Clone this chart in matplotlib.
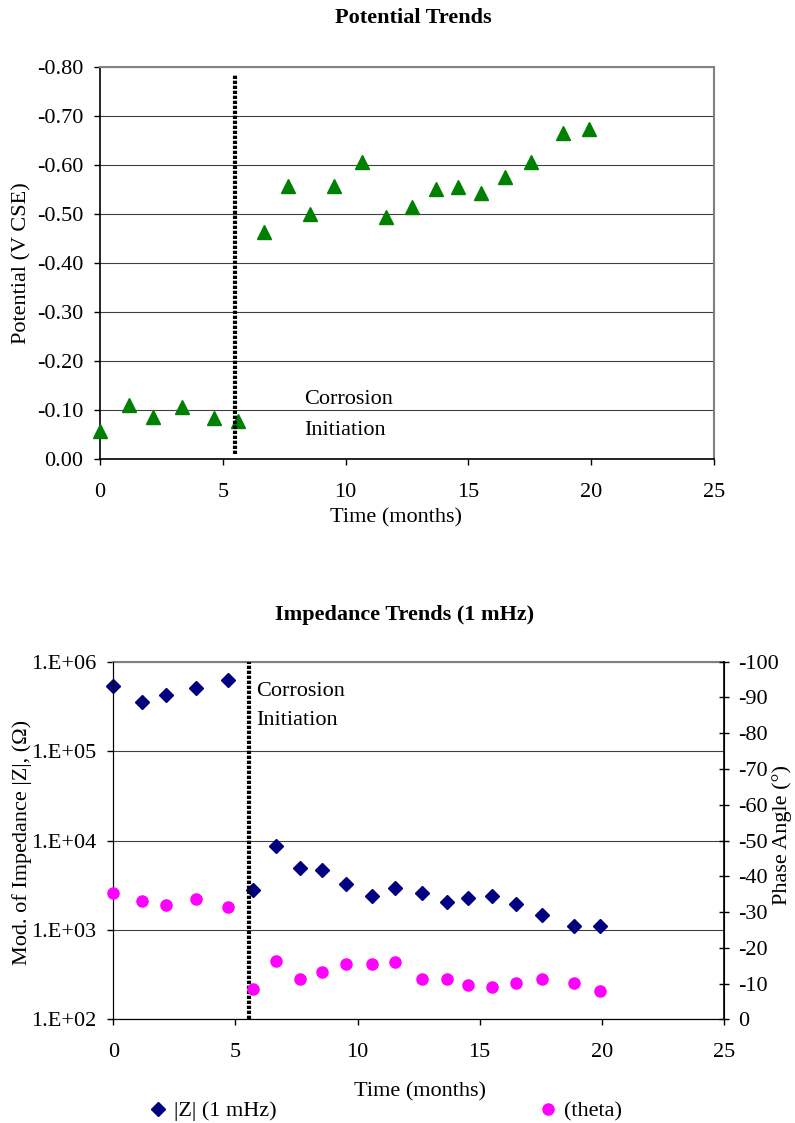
import matplotlib
matplotlib.use("Agg")
import matplotlib.pyplot as plt
from matplotlib.ticker import FixedLocator, FuncFormatter
import numpy as np

plt.rcParams['font.family'] = ['Liberation Serif', 'DejaVu Serif']
plt.rcParams['axes.unicode_minus'] = False

# Potential data (months, V CSE)
pot_time = [0.0, 1.17, 2.14, 3.35, 4.65, 5.62, 6.68, 7.67, 8.55, 9.53,
            10.67, 11.64, 12.69, 13.67, 14.56, 15.53, 16.5, 17.56, 18.86, 19.91]
potential = [-0.058, -0.110, -0.086, -0.107, -0.083, -0.078, -0.464, -0.558, -0.501, -0.558,
             -0.607, -0.494, -0.514, -0.551, -0.555, -0.542, -0.575, -0.607, -0.665, -0.673]

# Impedance data at 1 mHz
imp_time = [0.0, 1.16, 2.15, 3.40, 4.70, 5.70, 6.64, 7.65, 8.53, 9.54,
            10.59, 11.55, 12.64, 13.65, 14.51, 15.51, 16.49, 17.56, 18.87, 19.92]
z_mod = [5.4e5, 3.5e5, 4.2e5, 5.1e5, 6.3e5, 2.8e3, 8.7e3, 4.9e3, 4.7e3, 3.3e3,
         2.4e3, 2.95e3, 2.6e3, 2.07e3, 2.29e3, 2.4e3, 1.95e3, 1.45e3, 1.1e3, 1.1e3]
theta = [-35.4, -33.2, -32.0, -33.7, -31.5, -8.6, -16.4, -11.4, -13.1, -15.4,
         -15.4, -15.9, -11.4, -11.3, -9.7, -9.1, -10.2, -11.3, -10.2, -8.0]

initiation_top = 5.5
initiation_bot = 5.55

fs = 16
W, H = 795, 1123
fig = plt.figure(figsize=(W / 100, H / 100), dpi=100)

def fx(px):
    return px / W

def fy(py):
    return 1 - py / H

# ---- Plot 1: Potential Trends
ax1 = fig.add_axes([fx(100), fy(459), fx(714) - fx(100), fy(67) - fy(459)])
ax1.plot(pot_time, potential, linestyle='none', marker='^', ms=10, color='#008000',
         zorder=3, clip_on=False)
ax1.plot([initiation_top, initiation_top], [-0.01, -0.785], color='black', lw=3,
         linestyle=(0, (0.8, 0.4)), zorder=4)
ax1.text(8.3, -0.122, "Corrosion", fontsize=fs, va='center', ha='left')
ax1.text(8.3, -0.059, "Initiation", fontsize=fs, va='center', ha='left')
ax1.set_xlim(0, 25)
ax1.set_ylim(0, -0.8)
ax1.set_xticks([0, 5, 10, 15, 20, 25])
ax1.set_yticks(np.arange(0, -0.81, -0.1))
ax1.yaxis.set_major_formatter(FuncFormatter(lambda v, p: f"{v:.2f}" if abs(v) > 1e-9 else "0.00"))
ax1.grid(axis='y', color='#404040', lw=0.8)
ax1.set_axisbelow(True)
for s in ['top', 'right']:
    ax1.spines[s].set_color('#808080')
    ax1.spines[s].set_linewidth(1.5)
for s in ['left', 'bottom']:
    ax1.spines[s].set_linewidth(1.2)
ax1.tick_params(labelsize=fs, direction='out', length=4, width=1)
ax1.tick_params(axis='x', pad=13)
ax1.tick_params(axis='y', pad=8)
fig.text(fx(396), fy(518), "Time (months)", fontsize=fs, ha='center', va='center')
fig.text(fx(22), fy(263), "Potential (V CSE)", fontsize=fs, ha='center', va='center', rotation=90)
fig.text(fx(413), fy(18), "Potential Trends", fontsize=fs, fontweight='bold', ha='center', va='center')

# ---- Plot 2: Impedance Trends
ax2 = fig.add_axes([fx(113.3), fy(1019.3), fx(724) - fx(113.3), fy(661.7) - fy(1019.3)])
ax2.set_yscale('log')
hz, = ax2.plot(imp_time, z_mod, linestyle='none', marker='D', ms=7, color='#000080',
               zorder=3, clip_on=False)
ax2.plot([initiation_bot, initiation_bot], [1e2, 1e6], color='black', lw=3,
         linestyle=(0, (0.8, 0.4)), zorder=4)
ax2.text(5.85, 10**5.67, "Corrosion", fontsize=fs, va='center', ha='left')
ax2.text(5.85, 10**5.34, "Initiation", fontsize=fs, va='center', ha='left')
ax2.set_xlim(0, 25)
ax2.set_ylim(1e2, 1e6)
ax2.set_xticks([0, 5, 10, 15, 20, 25])
ax2.yaxis.set_major_locator(FixedLocator([1e2, 1e3, 1e4, 1e5, 1e6]))
ax2.yaxis.set_minor_locator(FixedLocator([]))
ax2.yaxis.set_major_formatter(FuncFormatter(lambda v, p: f"1.E+{int(round(np.log10(v))):02d}"))
ax2.grid(axis='y', color='#404040', lw=0.8)
ax2.set_axisbelow(True)
ax2.spines['top'].set_color('#808080')
ax2.spines['top'].set_linewidth(1.5)
ax2.tick_params(labelsize=fs, direction='out', length=4, width=1)
ax2.tick_params(axis='x', pad=13)
ax2.tick_params(axis='y', pad=8)

ax3 = ax2.twinx()
ht, = ax3.plot(imp_time, theta, linestyle='none', marker='o', ms=8, color='#FF00FF',
               zorder=3, clip_on=False)
ax3.set_ylim(0, -100)
ax3.set_yticks(np.arange(0, -101, -10))
ax3.tick_params(labelsize=fs, direction='inout', length=7, width=1, pad=7)
ax3.spines['right'].set_linewidth(1.2)
ax3.spines['top'].set_visible(False)

fig.text(fx(420), fy(1092), "Time (months)", fontsize=fs, ha='center', va='center')
fig.text(fx(22), fy(842), "Mod. of Impedance |Z|, (\u03a9)", fontsize=fs, ha='center',
         va='center', rotation=90)
fig.text(fx(782), fy(835), "Phase Angle (\u00b0)", fontsize=fs, ha='center', va='center', rotation=90)
fig.text(fx(405), fy(615), "Impedance Trends (1 mHz)", fontsize=fs, fontweight='bold',
         ha='center', va='center')

fig.legend(handles=[hz], labels=["|Z| (1 mHz)"], loc='center left',
           bbox_to_anchor=(fx(147), fy(1111)), frameon=False, fontsize=fs,
           borderpad=0, borderaxespad=0, handlelength=1.0, handletextpad=0.2)
fig.legend(handles=[ht], labels=["(theta)"], loc='center left',
           bbox_to_anchor=(fx(537), fy(1111)), frameon=False, fontsize=fs,
           borderpad=0, borderaxespad=0, handlelength=1.0, handletextpad=0.2)

fig.savefig("out.png", dpi=100)
